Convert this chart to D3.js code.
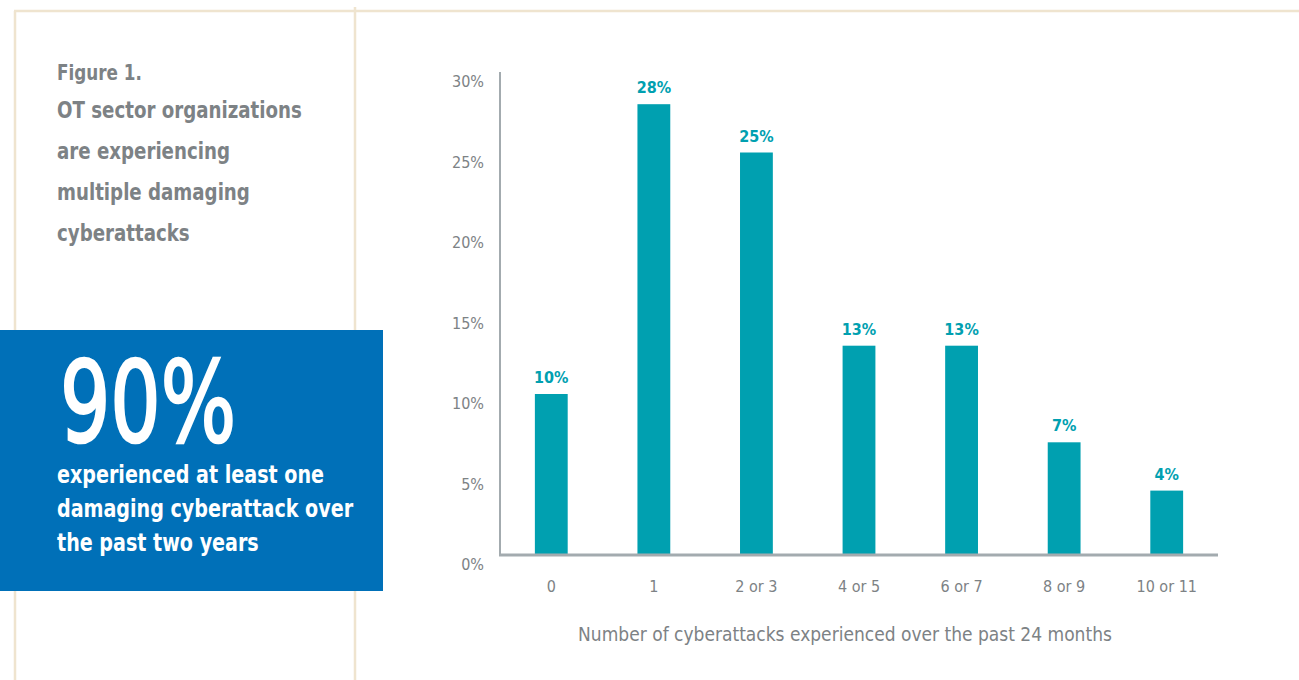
<!DOCTYPE html>
<html>
<head>
<meta charset="utf-8">
<script src="https://cdn.jsdelivr.net/npm/d3@7"></script>
<style>
  html, body { margin: 0; padding: 0; background: #fff; }
  svg { display: block; }
  text { font-family: "Liberation Sans Narrow", "DejaVu Sans Condensed", "Roboto", sans-serif; }
</style>
</head>
<body>
<div id="chart"></div>
<script>
// chart values
var categories = ["0", "1", "2 or 3", "4 or 5", "6 or 7", "8 or 9", "10 or 11"];
var shares = [10, 28, 25, 13, 13, 7, 4];
var yTicks = [0, 5, 10, 15, 20, 25, 30];

var titleLines = ["OT sector organizations", "are experiencing", "multiple damaging", "cyberattacks"];
var calloutLines = ["experienced at least one", "damaging cyberattack over", "the past two years"];

var W = 1299, H = 680;
var teal = "#00a0b0", grey = "#7d8285", border = "#efe4cf";

var svg = d3.select("#chart").append("svg")
    .attr("width", W)
    .attr("height", H);

// squeeze text horizontally, the original uses a narrower face
function squeezed(sel, px, py, sx) {
    return sel.attr("transform", "translate(" + px + "," + py + ") scale(" + sx + ",1)");
}

// frame lines
svg.append("line").attr("x1", 14).attr("x2", W).attr("y1", 11).attr("y2", 11)
    .attr("stroke", border).attr("stroke-width", 2.5);
svg.append("line").attr("x1", 15).attr("x2", 15).attr("y1", 11).attr("y2", H)
    .attr("stroke", border).attr("stroke-width", 2.5);
svg.append("line").attr("x1", 355).attr("x2", 355).attr("y1", 7).attr("y2", H)
    .attr("stroke", border).attr("stroke-width", 2.5);

// title block
svg.append("text")
    .call(squeezed, 57, 80, 0.85)
    .attr("fill", grey).attr("font-weight", "bold")
    .attr("font-size", 22)
    .text("Figure 1.");

svg.append("g").selectAll("text")
    .data(titleLines)
    .enter().append("text")
    .each(function(d, i){ squeezed(d3.select(this), 57, 118 + i*41, 0.88); })
    .attr("fill", grey).attr("font-weight", "bold")
    .attr("font-size", 23)
    .text(function(d){ return d; });

// blue callout
svg.append("rect")
    .attr("x", 0).attr("y", 330).attr("width", 383).attr("height", 261)
    .attr("fill", "#0070b8");
var big = svg.append("text")
    .attr("fill", "#fff")
    .attr("stroke", "#fff")
    .attr("stroke-width", 2.5)
    .attr("font-size", 112)
    .text("90%");
// fit the big figure to the width it has in the original (about 176px)
var bigW = big.node().getComputedTextLength();
big.call(squeezed, 60, 441, 176 / bigW);

svg.append("g").selectAll("text")
    .data(calloutLines)
    .enter().append("text")
    .each(function(d, i){ squeezed(d3.select(this), 57, 483 + i*34, 0.85); })
    .attr("fill", "#fff").attr("font-weight", "bold")
    .attr("font-size", 25)
    .text(function(d){ return d; });

// bar chart
var x0 = 500, x1 = 1218, yBase = 555, yTop = 72;
var x = d3.scaleBand()
    .domain(categories)
    .range([x0, x1])
    .paddingInner(0.68)
    .paddingOuter(0.34);
var y = d3.scaleLinear()
    .domain([0, 30])
    .range([yBase, yBase - 30*16.1]);

var plot = svg.append("g");

plot.selectAll("rect.bar")
    .data(shares)
    .enter().append("rect")
    .attr("class", "bar")
    .attr("x", function(d, i){ return x(categories[i]); })
    .attr("width", x.bandwidth())
    .attr("y", function(d){ return y(d); })
    .attr("height", function(d){ return yBase - y(d); })
    .attr("fill", teal);

plot.selectAll("text.val")
    .data(shares)
    .enter().append("text")
    .attr("class", "val")
    .attr("x", function(d, i){ return x(categories[i]) + x.bandwidth()/2; })
    .attr("y", function(d){ return y(d) - 11; })
    .attr("text-anchor", "middle")
    .attr("fill", teal).attr("font-weight", "bold")
    .attr("font-size", 16)
    .text(function(d){ return d + "%"; });

// axes lines
plot.append("line").attr("x1", x0).attr("x2", x0).attr("y1", yTop).attr("y2", yBase)
    .attr("stroke", "#a3abaf").attr("stroke-width", 2);
plot.append("line").attr("x1", x0 - 1).attr("x2", x1).attr("y1", yBase).attr("y2", yBase)
    .attr("stroke", "#a3abaf").attr("stroke-width", 3);

// y tick labels
plot.selectAll("text.ytick")
    .data(yTicks)
    .enter().append("text")
    .attr("class", "ytick")
    .attr("x", 484)
    .attr("y", function(d){ return y(d) + 15; })
    .attr("text-anchor", "end")
    .attr("fill", grey)
    .attr("font-size", 16)
    .text(function(d){ return d + "%"; });

// x tick labels
plot.selectAll("text.xtick")
    .data(categories)
    .enter().append("text")
    .attr("class", "xtick")
    .attr("x", function(d){ return x(d) + x.bandwidth()/2; })
    .attr("y", 592)
    .attr("text-anchor", "middle")
    .attr("fill", grey)
    .attr("font-size", 16)
    .text(function(d){ return d; });

plot.append("text")
    .attr("x", 845).attr("y", 641)
    .attr("text-anchor", "middle")
    .attr("fill", grey)
    .attr("font-size", 19)
    .text("Number of cyberattacks experienced over the past 24 months");
</script>
</body>
</html>
